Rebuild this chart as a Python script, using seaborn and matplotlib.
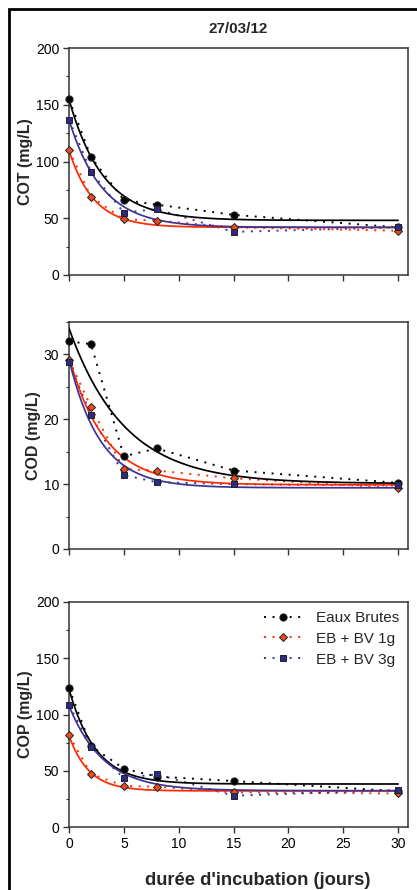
import numpy as np
import pandas as pd
import matplotlib
matplotlib.use('Agg')
import matplotlib.pyplot as plt
import seaborn as sns
from matplotlib.lines import Line2D
from matplotlib.patches import Rectangle
from matplotlib.ticker import MultipleLocator

# data
days = [0, 2, 5, 8, 15, 30]
series = ['Eaux Brutes', 'EB + BV 1g', 'EB + BV 3g']

cot_eb = [155, 104, 66, 62, 53, 42]
cot_bv1 = [110, 69, 49, 48, 42, 39]
cot_bv3 = [137, 91, 55, 58, 38, 42]

cod_eb = [32.0, 31.6, 14.3, 15.5, 12.1, 10.2]
cod_bv1 = [29.2, 21.9, 12.3, 12.1, 10.9, 9.4]
cod_bv3 = [28.8, 20.7, 11.4, 10.3, 10.0, 9.8]

cop_eb = [123.5, 72, 52, 45, 41, 32]
cop_bv1 = [81.5, 47.5, 36.6, 36, 31, 30]
cop_bv3 = [108.4, 71.5, 43.7, 47, 28, 33]

ylabels = ['COT (mg/L)', 'COD (mg/L)', 'COP (mg/L)']
ylims = [(0, 200), (0, 35), (0, 200)]
ymajor = [50, 10, 50]

line_colors = {'Eaux Brutes': 'black', 'EB + BV 1g': '#ff2a00', 'EB + BV 3g': '#3a3497'}
fill_colors = {'Eaux Brutes': 'black', 'EB + BV 1g': '#ee4a1c', 'EB + BV 3g': '#2c2a86'}
markers = {'Eaux Brutes': 'o', 'EB + BV 1g': 'D', 'EB + BV 3g': 's'}
msizes = {'Eaux Brutes': 5.2, 'EB + BV 1g': 4.4, 'EB + BV 3g': 5.0}

panels = [
    {'Eaux Brutes': cot_eb, 'EB + BV 1g': cot_bv1, 'EB + BV 3g': cot_bv3},
    {'Eaux Brutes': cod_eb, 'EB + BV 1g': cod_bv1, 'EB + BV 3g': cod_bv3},
    {'Eaux Brutes': cop_eb, 'EB + BV 1g': cop_bv1, 'EB + BV 3g': cop_bv3},
]

DOTS = (0, (1, 3.4))


def fit_decay(x, y):
    # y = c + a*exp(-k x), least squares with a scan over k
    x = np.asarray(x, float)
    y = np.asarray(y, float)
    best = None
    for k in np.linspace(0.02, 3, 3000):
        A = np.column_stack([np.ones_like(x), np.exp(-k * x)])
        coef, *_ = np.linalg.lstsq(A, y, rcond=None)
        err = np.sum((A @ coef - y) ** 2)
        if best is None or err < best[0]:
            best = (err, k, coef)
    return best[1], best[2]


sns.set_style('ticks')
plt.rcParams['font.family'] = ['Liberation Sans', 'DejaVu Sans']

fig = plt.figure(figsize=(4.17, 8.9), dpi=100)
W, H = 417, 890
boxes = [(48, 275), (322, 549), (601.7, 827.3)]
left, right = 69, 408

axes = []
for (top, bot) in boxes:
    ax = fig.add_axes([left / W, 1 - bot / H, (right - left) / W, (bot - top) / H])
    axes.append(ax)

xfit = np.linspace(0, 30, 300)
for i, ax in enumerate(axes):
    rows = []
    for s in series:
        for d, v in zip(days, panels[i][s]):
            rows.append({'jours': d, 'val': v, 'serie': s})
    df = pd.DataFrame(rows)

    # dotted lines through the data
    for s in series:
        sub = df[df['serie'] == s]
        sns.lineplot(data=sub, x='jours', y='val', ax=ax, color=line_colors[s],
                     linestyle=DOTS, linewidth=1.4, zorder=2, legend=False)
    # exponential fits
    for s in series:
        sub = df[df['serie'] == s]
        k, (c, a) = fit_decay(sub['jours'], sub['val'])
        fdf = pd.DataFrame({'jours': xfit, 'val': c + a * np.exp(-k * xfit)})
        sns.lineplot(data=fdf, x='jours', y='val', ax=ax, color=line_colors[s],
                     linewidth=1.25, zorder=3, legend=False)
    # markers
    for s in series:
        sub = df[df['serie'] == s]
        sns.lineplot(data=sub, x='jours', y='val', ax=ax, linestyle='none',
                     marker=markers[s], markersize=msizes[s],
                     markerfacecolor=fill_colors[s], markeredgecolor='#222222',
                     markeredgewidth=0.7, zorder=4, legend=False, clip_on=False)

    ax.set_xlim(0, 30.9)
    ax.set_ylim(*ylims[i])
    ax.set_xticks([0, 5, 10, 15, 20, 25, 30])
    ax.yaxis.set_major_locator(MultipleLocator(ymajor[i]))
    ax.yaxis.set_minor_locator(MultipleLocator(ymajor[i] / 2))
    ax.tick_params(axis='both', which='major', direction='out', length=4,
                   width=1, labelsize=10, colors='#333333', labelcolor='black', pad=3)
    ax.tick_params(axis='y', which='minor', direction='out', length=2.5, width=0.8,
                   colors='#333333')
    ax.set_ylabel(ylabels[i], fontsize=11.5, fontweight='bold', labelpad=2)
    if i < 2:
        ax.tick_params(axis='x', labelbottom=False)
        ax.set_xlabel('')
    else:
        ax.set_xlabel("durée d'incubation (jours)", fontsize=13.2,
                      fontweight='bold', labelpad=16)
        ax.xaxis.set_label_coords((258 - left) / (right - left), -0.2)
    for sp in ax.spines.values():
        sp.set_visible(True)
        sp.set_linewidth(1.1)
        sp.set_color('#333333')

axes[0].set_title('27/03/12', fontsize=11, fontweight='bold', pad=11)

handles = [Line2D([0], [0], color=line_colors[s], linestyle=DOTS, linewidth=1.4,
                  marker=markers[s], markersize=msizes[s], markerfacecolor=fill_colors[s],
                  markeredgecolor='#222222', markeredgewidth=0.7) for s in series]
axes[2].legend(handles, series, loc='upper right', frameon=False, fontsize=11,
               handlelength=2.6, handletextpad=0.8, labelspacing=0.45,
               borderaxespad=0.2)

# outer frame of the original figure
fig.patches.append(Rectangle((9 / W, -0.05), 1.2, 1.05 - 9 / H, transform=fig.transFigure,
                             fill=False, edgecolor='black', linewidth=2, clip_on=False))

fig.savefig('out.png', dpi=100, facecolor='white')
